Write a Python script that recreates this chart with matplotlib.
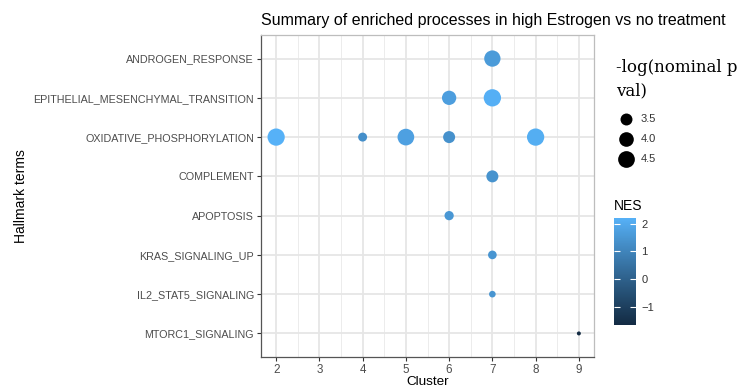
import numpy as np
import matplotlib
matplotlib.use("Agg")
import matplotlib.pyplot as plt
import matplotlib.colors as mcolors
from matplotlib.cm import ScalarMappable

plt.rcParams['font.family'] = ['Liberation Sans', 'DejaVu Sans']

terms = [
    "ANDROGEN_RESPONSE",
    "EPITHELIAL_MESENCHYMAL_TRANSITION",
    "OXIDATIVE_PHOSPHORYLATION",
    "COMPLEMENT",
    "APOPTOSIS",
    "KRAS_SIGNALING_UP",
    "IL2_STAT5_SIGNALING",
    "MTORC1_SIGNALING",
]

point_term = [
    "ANDROGEN_RESPONSE",
    "EPITHELIAL_MESENCHYMAL_TRANSITION",
    "EPITHELIAL_MESENCHYMAL_TRANSITION",
    "OXIDATIVE_PHOSPHORYLATION",
    "OXIDATIVE_PHOSPHORYLATION",
    "OXIDATIVE_PHOSPHORYLATION",
    "OXIDATIVE_PHOSPHORYLATION",
    "OXIDATIVE_PHOSPHORYLATION",
    "COMPLEMENT",
    "APOPTOSIS",
    "KRAS_SIGNALING_UP",
    "IL2_STAT5_SIGNALING",
    "MTORC1_SIGNALING",
]
cluster = [7, 6, 7, 2, 4, 5, 6, 8, 7, 6, 7, 7, 9]
neglogp = [4.39, 3.93, 4.65, 4.63, 3.11, 4.49, 3.51, 4.64, 3.51, 3.14, 3.08, 2.93, 2.86]
nes = [1.6, 1.7, 2.15, 2.2, 1.3, 1.75, 1.35, 2.1, 1.4, 1.5, 1.45, 1.45, -1.65]

size_breaks = [3.5, 4.0, 4.5]
nes_ticks = [-1, 0, 1, 2]


# ggplot-style continuous gradient, interpolated in CIE Lab
WHITE = np.array([0.95047, 1.0, 1.08883])
M_RGB2XYZ = np.array([[0.4124, 0.3576, 0.1805],
                      [0.2126, 0.7152, 0.0722],
                      [0.0193, 0.1192, 0.9505]])


def to_lab(hexcol):
    rgb = np.array(mcolors.to_rgb(hexcol))
    lin = np.where(rgb <= 0.04045, rgb / 12.92, ((rgb + 0.055) / 1.055) ** 2.4)
    xyz = M_RGB2XYZ @ lin / WHITE
    d = 6 / 29
    f = np.where(xyz > d ** 3, np.cbrt(xyz), xyz / (3 * d ** 2) + 4 / 29)
    return np.array([116 * f[1] - 16, 500 * (f[0] - f[1]), 200 * (f[1] - f[2])])


def from_lab(lab):
    d = 6 / 29
    fy = (lab[0] + 16) / 116
    f = np.array([fy + lab[1] / 500, fy, fy - lab[2] / 200])
    xyz = np.where(f > d, f ** 3, 3 * d ** 2 * (f - 4 / 29)) * WHITE
    lin = np.linalg.solve(M_RGB2XYZ, xyz)
    lin = np.clip(lin, 0, 1)
    rgb = np.where(lin <= 0.0031308, 12.92 * lin, 1.055 * lin ** (1 / 2.4) - 0.055)
    return np.clip(rgb, 0, 1)


lo, hi = to_lab("#132B43"), to_lab("#56B1F7")
cmap = mcolors.ListedColormap([from_lab(lo + t * (hi - lo)) for t in np.linspace(0, 1, 256)])
norm = mcolors.Normalize(vmin=min(nes), vmax=max(nes))


def point_diam(v):
    # area scaling like scale_size(): diameter grows with sqrt of rescaled value
    v = np.asarray(v, dtype=float)
    frac = (v - min(neglogp)) / (max(neglogp) - min(neglogp))
    return 4.0 + 13.3 * np.sqrt(np.clip(frac, 0, None))


def to_s(diam_px):
    return (diam_px * 72 / 100) ** 2


fig = plt.figure(figsize=(7.4, 3.87), dpi=100)
ax = fig.add_axes([261 / 740, 30 / 387, 333 / 740, 322 / 387])

ypos = {t: len(terms) - 1 - i for i, t in enumerate(terms)}
y = [ypos[t] for t in point_term]

ax.set_xlim(1.65, 9.35)
ax.set_ylim(-0.6, len(terms) - 1 + 0.6)
ax.set_xticks(range(2, 10))
ax.set_xticks(np.arange(2.5, 9.5, 1), minor=True)
ax.set_yticks(range(len(terms)))
ax.set_yticklabels(terms[::-1])
ax.grid(True, which='major', color='#e6e6e6', lw=1.3, zorder=0)
ax.grid(True, which='minor', axis='x', color='#ececec', lw=0.7, zorder=0)
ax.set_axisbelow(True)
ax.tick_params(which='minor', length=0)
ax.tick_params(which='major', length=3, width=0.8, color='#333333',
               labelsize=7.75, labelcolor='#4d4d4d', pad=2)
ax.tick_params(axis='x', labelsize=8.4, pad=2)
for side in ('left', 'bottom'):
    ax.spines[side].set_color('#555555')
    ax.spines[side].set_linewidth(0.9)
for side in ('top', 'right'):
    ax.spines[side].set_color('#bdbdbd')
    ax.spines[side].set_linewidth(0.9)

ax.scatter(cluster, y, s=to_s(point_diam(neglogp)), c=nes, cmap=cmap, norm=norm,
           linewidths=0, zorder=3)

ax.set_xlabel("Cluster", fontsize=9.7, labelpad=0)
ax.set_ylabel("Hallmark terms", fontsize=10, labelpad=4)
ax.set_title("Summary of enriched processes in high Estrogen vs no treatment",
             fontsize=11.5, loc='left', pad=7)

# size legend, laid out in pixel coordinates
leg = fig.add_axes([0, 0, 1, 1])
leg.set_xlim(0, 740)
leg.set_ylim(387, 0)
leg.axis('off')
leg.text(616, 79, "-log(nominal p\nval)", family='DejaVu Serif', fontsize=12,
         va='center', ha='left', linespacing=1.5)
for i, b in enumerate(size_breaks):
    yy = 119 + 20 * i
    leg.scatter([626], [yy], s=to_s(point_diam([b])), color='black', linewidths=0)
    leg.text(641, yy, f"{b:.1f}", fontsize=8, color='#333333', va='center')
leg.text(614, 206, "NES", fontsize=10, va='center', ha='left')

# colour bar
cax = fig.add_axes([614 / 740, 62 / 387, 22 / 740, 107 / 387])
cb = fig.colorbar(ScalarMappable(norm=norm, cmap=cmap), cax=cax)
cb.outline.set_visible(False)
cb.set_ticks(nes_ticks)
cax.yaxis.set_ticks_position('both')
cax.tick_params(direction='in', length=4, width=0.8, color='white',
                labelsize=8, labelcolor='#333333', pad=4, labelleft=False, labelright=True)

fig.savefig("out.png", dpi=100)
